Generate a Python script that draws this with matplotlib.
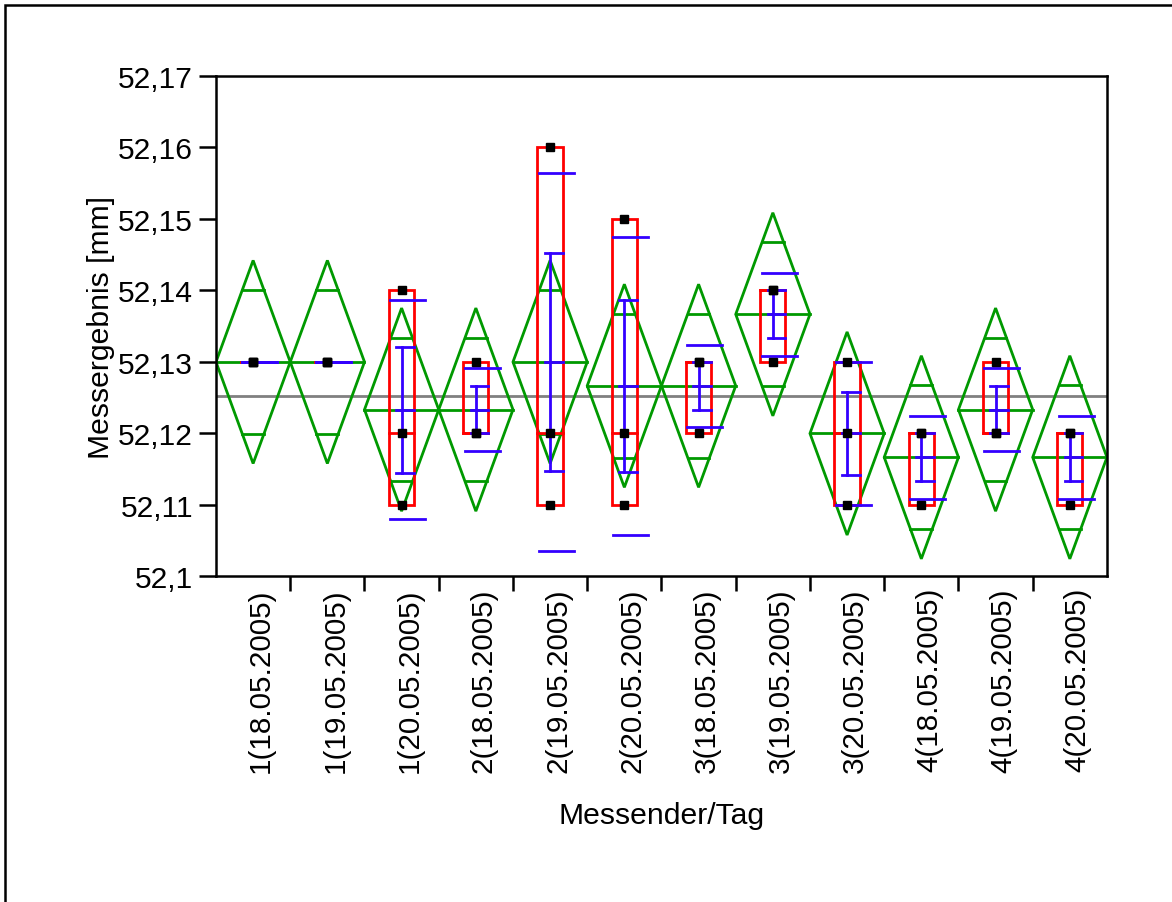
import numpy as np
import matplotlib
matplotlib.use('Agg')
import matplotlib.pyplot as plt
from matplotlib.patches import Polygon, Rectangle
from matplotlib.transforms import ScaledTranslation

plt.rcParams['font.family'] = ['Liberation Sans', 'DejaVu Sans']

# groups (Messender/Tag) and the three readings of each group
labels = ['1(18.05.2005)', '1(19.05.2005)', '1(20.05.2005)',
          '2(18.05.2005)', '2(19.05.2005)', '2(20.05.2005)',
          '3(18.05.2005)', '3(19.05.2005)', '3(20.05.2005)',
          '4(18.05.2005)', '4(19.05.2005)', '4(20.05.2005)']
points = [[52.13, 52.13, 52.13],
          [52.13, 52.13, 52.13],
          [52.14, 52.12, 52.11],
          [52.13, 52.12, 52.12],
          [52.16, 52.12, 52.11],
          [52.15, 52.12, 52.11],
          [52.13, 52.13, 52.12],
          [52.14, 52.14, 52.13],
          [52.13, 52.12, 52.11],
          [52.12, 52.12, 52.11],
          [52.13, 52.12, 52.12],
          [52.12, 52.12, 52.11]]
ci_half = 0.0142  # 95% CI half width of the means diamonds (pooled)

yticks = [52.10, 52.11, 52.12, 52.13, 52.14, 52.15, 52.16, 52.17]
ytick_labels = ['52,1', '52,11', '52,12', '52,13', '52,14', '52,15', '52,16', '52,17']

green = '#009900'
red = '#ff0000'
blue = '#3300ff'
gray = '#808080'
lw = 2.0

fig = plt.figure(figsize=(11.72, 9.03), dpi=100)
ax = fig.add_axes([0.1843, 0.3605, 0.7602, 0.5543])
ax.set_xlim(0, len(labels))
ax.set_ylim(52.10, 52.17)

# grand mean
grand = np.mean(np.concatenate(points))
ax.axhline(grand, color=gray, lw=lw, zorder=1)

for i, vals in enumerate(points):
    v = np.array(vals)
    c = i + 0.5
    m = v.mean()
    sd = v.std(ddof=1)
    se = sd / np.sqrt(len(v))

    # means diamond with overlap marks
    ax.add_patch(Polygon([[i, m], [c, m + ci_half], [i + 1, m], [c, m - ci_half]],
                         closed=True, fill=False, ec=green, lw=lw, zorder=2))
    ax.plot([i, i + 1], [m, m], color=green, lw=lw, zorder=2)
    ov = ci_half / np.sqrt(2)
    hw = 0.5 * (1 - ov / ci_half)
    for y in (m + ov, m - ov):
        ax.plot([c - hw, c + hw], [y, y], color=green, lw=lw, zorder=2)

    # box plot
    lo, med, hi = v.min(), np.median(v), v.max()
    ax.add_patch(Rectangle((c - 0.17, lo), 0.34, hi - lo, fill=False,
                           ec=red, lw=lw, zorder=3))
    ax.plot([c - 0.17, c + 0.17], [med, med], color=red, lw=lw, zorder=3)

    # mean error bar and std dev lines
    ax.plot([c, c], [m - se, m + se], color=blue, lw=lw, zorder=4)
    for y in (m - se, m, m + se):
        ax.plot([c - 0.07, c + 0.17], [y, y], color=blue, lw=lw, zorder=4)
    for y in (m - sd, m + sd):
        ax.plot([c - 0.15, c + 0.32], [y, y], color=blue, lw=lw, zorder=4)

    # raw points
    ax.plot(np.full(len(v), c), v, 's', color='k', ms=6, zorder=5)

# axes styling
for s in ax.spines.values():
    s.set_linewidth(1.8)

ax.set_yticks(yticks, ytick_labels, fontsize=21.6)
ax.tick_params(axis='y', direction='out', length=12.2, width=1.8, pad=4.3)

ax.set_xticks(np.arange(len(labels)) + 0.5, labels, rotation=90, fontsize=21.3)
ax.tick_params(axis='x', which='major', length=0, pad=7.6)
ax.set_xticks(np.arange(1, len(labels)), minor=True)
ax.tick_params(axis='x', which='minor', direction='out', length=10.5, width=1.8)
offset = ScaledTranslation(0.08, 0, fig.dpi_scale_trans)
for lbl in ax.get_xticklabels():
    lbl.set_transform(lbl.get_transform() + offset)

ax.set_xlabel('Messender/Tag', fontsize=21.7)
ax.xaxis.set_label_coords(0.5, -0.448)
ax.set_ylabel('Messergebnis [mm]', fontsize=21.7)
ax.yaxis.set_label_coords(-0.113, 0.5)

# outer frame (left and top edges visible)
fig.add_artist(Rectangle((5 / 1172, -0.1), 1.2, 1.1 - 6 / 903, fill=False,
                         ec='k', lw=1.8, transform=fig.transFigure))

fig.savefig('out.png', dpi=100)
